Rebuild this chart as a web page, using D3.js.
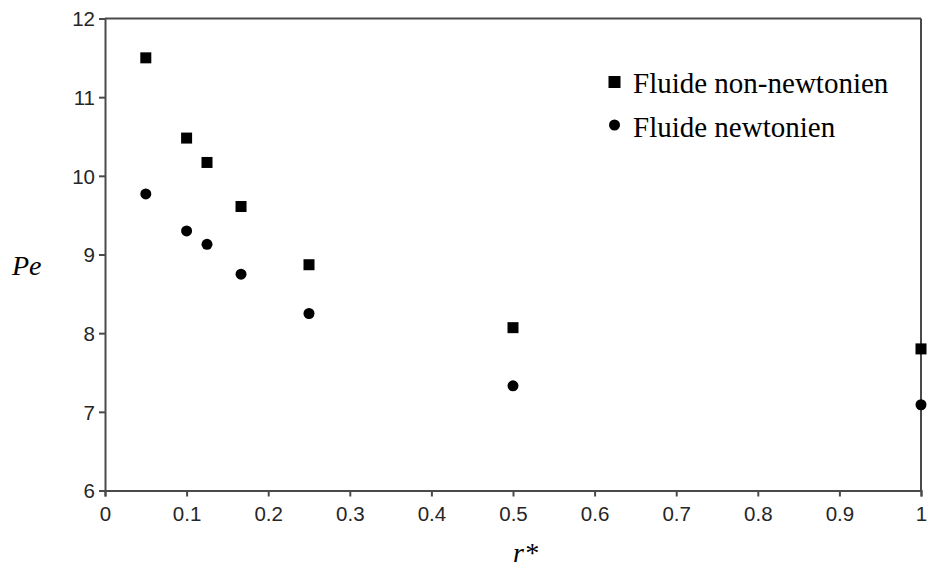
<!DOCTYPE html>
<html>
<head>
<meta charset="utf-8">
<script src="https://cdn.jsdelivr.net/npm/d3@7"></script>
<style>
  html, body { margin: 0; padding: 0; background: #fff; }
  svg { display: block; }
</style>
</head>
<body>
<svg id="chart" width="927" height="570"></svg>
<script>
// Radius ratio r* and Péclet number for the two fluids
const rStar = [0.05, 0.1, 0.125, 0.1667, 0.25, 0.5, 1];
const peNonNewtonian = [11.5, 10.48, 10.17, 9.61, 8.87, 8.07, 7.8];
const peNewtonian = [9.77, 9.3, 9.13, 8.75, 8.25, 7.33, 7.09];
const xTicks = [0, 0.1, 0.2, 0.3, 0.4, 0.5, 0.6, 0.7, 0.8, 0.9, 1];
const yTicks = [6, 7, 8, 9, 10, 11, 12];
const legendLabels = ["Fluide non-newtonien", "Fluide newtonien"];

(function () {
  const svg = d3.select("#chart");
  const plotLeft = 105, plotRight = 921, plotTop = 18.5, plotBottom = 490.5;

  const x = d3.scaleLinear().domain([0, 1]).range([plotLeft, plotRight]);
  const y = d3.scaleLinear().domain([6, 12]).range([plotBottom, plotTop]);

  const axisColor = "#4a4a4a";
  const tickFont = "Liberation Sans, Arial, sans-serif";
  const serif = "Liberation Serif, Times New Roman, serif";

  // Frame: top and right edges
  svg.append("line").attr("x1", plotLeft).attr("x2", plotRight).attr("y1", plotTop).attr("y2", plotTop)
    .attr("stroke", axisColor).attr("stroke-width", 2);
  svg.append("line").attr("x1", plotRight).attr("x2", plotRight).attr("y1", plotTop).attr("y2", plotBottom)
    .attr("stroke", axisColor).attr("stroke-width", 2);

  const fmt = d => (d === 0 || d === 1) ? String(d) : d3.format(".1f")(d);

  const gx = svg.append("g").attr("transform", `translate(0,${plotBottom})`)
    .call(d3.axisBottom(x).tickValues(xTicks).tickFormat(fmt).tickSizeOuter(0).tickSize(6).tickPadding(10));
  const gy = svg.append("g").attr("transform", `translate(${plotLeft},0)`)
    .call(d3.axisLeft(y).tickValues(yTicks).tickFormat(d3.format("d")).tickSizeOuter(0).tickSize(6).tickPadding(4));

  [gx, gy].forEach(g => {
    g.select(".domain").attr("stroke", axisColor).attr("stroke-width", 2);
    g.selectAll(".tick line").attr("stroke", axisColor).attr("stroke-width", 2);
    g.selectAll(".tick text").attr("fill", "#262626").attr("font-family", tickFont).attr("font-size", 20.5);
  });
  gy.selectAll(".tick text").attr("dy", "0.35em");

  // Data markers
  const sq = 11;
  svg.append("g").selectAll("rect").data(rStar.map((r, i) => [r, peNonNewtonian[i]]))
    .join("rect")
    .attr("x", d => x(d[0]) - sq / 2).attr("y", d => y(d[1]) - sq / 2)
    .attr("width", sq).attr("height", sq).attr("fill", "#000");

  svg.append("g").selectAll("circle").data(rStar.map((r, i) => [r, peNewtonian[i]]))
    .join("circle")
    .attr("cx", d => x(d[0])).attr("cy", d => y(d[1]))
    .attr("r", 5.5).attr("fill", "#000");

  // Legend
  const lg = svg.append("g");
  lg.append("rect").attr("x", 608.5).attr("y", 76).attr("width", 12).attr("height", 12).attr("fill", "#000");
  lg.append("circle").attr("cx", 614.5).attr("cy", 125).attr("r", 5.5).attr("fill", "#000");
  lg.selectAll("text").data(legendLabels).join("text")
    .attr("x", 633).attr("y", (d, i) => 93 + i * 44)
    .attr("font-family", serif).attr("font-size", 29).attr("fill", "#000")
    .text(d => d);

  // Axis titles
  svg.append("text").attr("x", 12).attr("y", 275)
    .attr("font-family", serif).attr("font-style", "italic").attr("font-size", 28)
    .text("Pe");
  svg.append("text").attr("x", 513).attr("y", 562)
    .attr("font-family", serif).attr("font-style", "italic").attr("font-size", 28)
    .text("r*");
})();
</script>
</body>
</html>
